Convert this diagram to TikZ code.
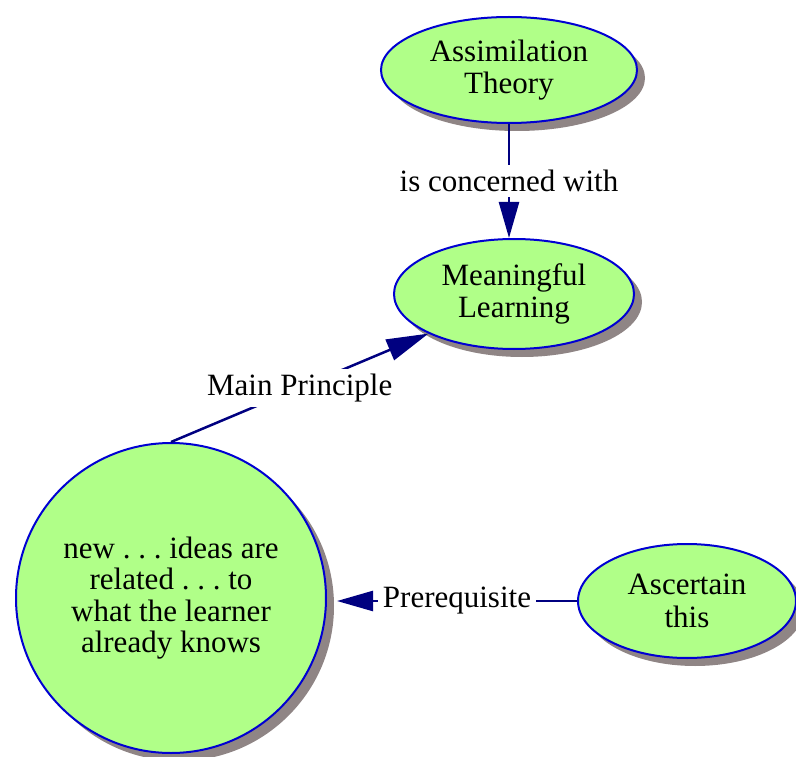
\documentclass[tikz,border=0pt]{standalone}
\usepackage{fontspec}
\setmainfont{Liberation Serif}
\frenchspacing
\usetikzlibrary{shapes.geometric,shadows,arrows.meta}
\definecolor{nodefill}{RGB}{176,255,136}
\definecolor{nodeborder}{RGB}{0,0,210}
\definecolor{shadowc}{RGB}{143,133,133}
\definecolor{connc}{RGB}{0,0,128}
\tikzset{
  concept/.style={ellipse, draw=nodeborder, fill=nodefill, line width=2pt, inner sep=0pt,
    align=center, font=\fontsize{31}{32.5}\selectfont,
    drop shadow={shadow xshift=8pt, shadow yshift=-8pt, fill=shadowc, opacity=1}},
  bigcircle/.style={circle, draw=nodeborder, fill=nodefill, line width=2pt, inner sep=0pt,
    align=center, font=\fontsize{31}{31.5}\selectfont, minimum size=310pt,
    drop shadow={shadow xshift=8pt, shadow yshift=-8pt, fill=shadowc, opacity=1}},
  lab/.style={fill=white, inner sep=5pt, font=\fontsize{31}{32}\selectfont},
  conn/.style={draw=connc, line width=2.5pt},
  headtip/.style={-{Triangle[length=36pt,width=20pt]}}
}
\begin{document}
\begin{tikzpicture}[x=1pt,y=-1pt]
\useasboundingbox (0,0) rectangle (796,757);
\node[concept, minimum width=256pt, minimum height=106pt] (at) at (509,70) {Assimilation\\Theory};
\node[concept, minimum width=240pt, minimum height=110pt] (ml) at (514,294) {Meaningful\\Learning};
\node[bigcircle] (circ) at (171,598) {new . . . ideas are\\related . . . to\\what the learner\\already knows};
\node[concept, minimum width=218pt, minimum height=114pt] (asc) at (687,601) {Ascertain\\this};
\coordinate (ptip) at (337,601);
\draw[conn,headtip] (at.south) -- node[lab] (l1) {is concerned with} (at.south |- ml.north);
\draw[conn,-{Triangle[length=42pt,width=22pt]}] (circ.north) -- node[lab] (l2) {Main Principle} (ml.south west);
\draw[conn,headtip] (asc.west) -- node[lab] (l3) {Prerequisite} (ptip);
\end{tikzpicture}
\end{document}
